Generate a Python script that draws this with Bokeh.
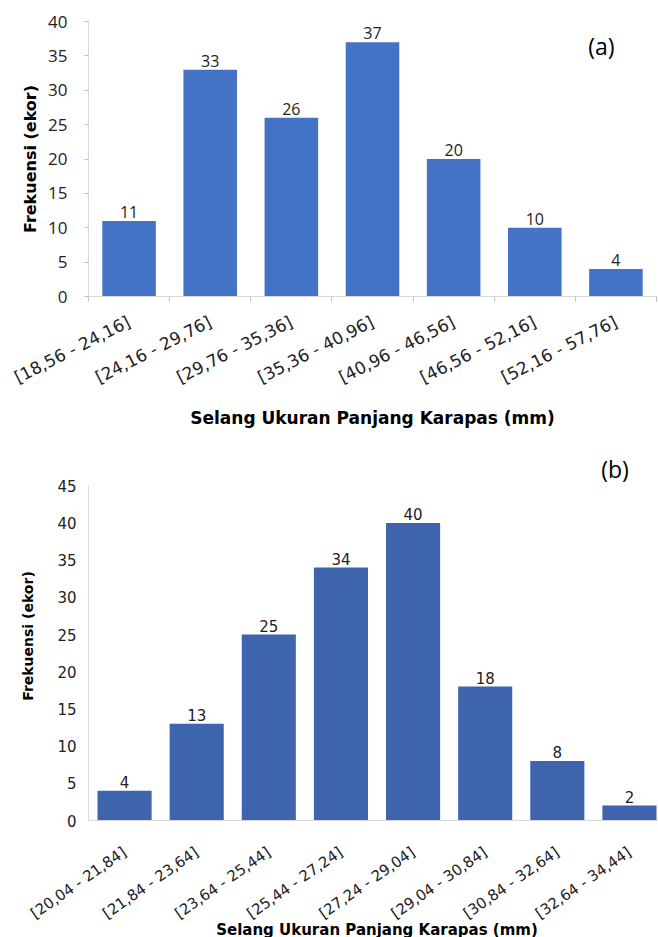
import math
from bokeh.plotting import figure
from bokeh.layouts import column
from bokeh.models import ColumnDataSource, FixedTicker, Label
from bokeh.core.properties import value
from bokeh.embed import file_html
from bokeh.resources import INLINE

# ---- data (a) ----
cats_a = ["[18,56 - 24,16]", "[24,16 - 29,76]", "[29,76 - 35,36]", "[35,36 - 40,96]",
          "[40,96 - 46,56]", "[46,56 - 52,16]", "[52,16 - 57,76]"]
vals_a = [11, 33, 26, 37, 20, 10, 4]
yticks_a = [0, 5, 10, 15, 20, 25, 30, 35, 40]

# ---- data (b) ----
cats_b = ["[20,04 - 21,84]", "[21,84 - 23,64]", "[23,64 - 25,44]", "[25,44 - 27,24]",
          "[27,24 - 29,04]", "[29,04 - 30,84]", "[30,84 - 32,64]", "[32,64 - 34,44]"]
vals_b = [4, 13, 25, 34, 40, 18, 8, 2]
yticks_b = [0, 5, 10, 15, 20, 25, 30, 35, 40, 45]

xlabel = "Selang Ukuran Panjang Karapas (mm)"
ylabel = "Frekuensi (ekor)"


def make_panel(cats, vals, yticks, color, bar_w, fw, fh, bl, bt, bb,
               tick_font, tick_size, xt_size, xt_angle, lab_font, lab_size,
               xtitle_size, ytitle_size, panel_tag, tag_xy, y_end, y_ticks_out,
               x_minor_out, xstand, ystand, ax_stand, ay_stand):
    n = len(cats)
    pos = list(range(1, n + 1))
    src = ColumnDataSource(dict(x=pos, top=vals, txt=[str(v) for v in vals]))
    p = figure(frame_width=fw, frame_height=fh, min_border_left=bl, min_border_right=2,
               min_border_top=bt, min_border_bottom=bb,
               x_range=(0.5, n + 0.5), y_range=(0, y_end),
               output_backend="svg", toolbar_location=None, tools="")
    p.vbar(x="x", top="top", width=bar_w, source=src, fill_color=color, line_color=None)
    p.text(x="x", y="top", text="txt", source=src, text_align="center",
           text_baseline="bottom", y_offset=-3, text_font=value(lab_font),
           text_font_size=f"{lab_size}px", text_color="#222222")
    p.xgrid.visible = False
    p.ygrid.visible = False
    p.outline_line_color = None

    xa = p.xaxis[0]
    xa.ticker = FixedTicker(ticks=pos, minor_ticks=[i + 0.5 for i in range(0, n + 1)])
    xa.major_label_overrides = {i: c for i, c in zip(pos, cats)}
    xa.major_tick_line_color = None
    xa.minor_tick_line_color = "#BFBFBF" if x_minor_out else None
    xa.minor_tick_out = x_minor_out
    xa.minor_tick_in = 0
    xa.axis_line_color = "#D9D9D9"
    xa.major_label_orientation = math.radians(xt_angle)
    xa.major_label_text_font = "DejaVu Sans"
    xa.major_label_text_font_size = f"{xt_size}px"
    xa.major_label_text_color = "#222222"
    xa.major_label_standoff = xstand
    xa.axis_label = xlabel
    xa.axis_label_text_font = "DejaVu Sans"
    xa.axis_label_text_font_style = "bold"
    xa.axis_label_text_font_size = f"{xtitle_size}px"
    xa.axis_label_text_color = "#000000"
    xa.axis_label_standoff = ax_stand

    ya = p.yaxis[0]
    ya.ticker = FixedTicker(ticks=yticks)
    ya.bounds = (yticks[0], yticks[-1])
    ya.axis_line_color = "#D9D9D9"
    ya.major_tick_line_color = "#BFBFBF" if y_ticks_out else None
    ya.major_tick_out = y_ticks_out
    ya.major_tick_in = 0
    ya.minor_tick_line_color = None
    ya.major_label_text_font = tick_font
    ya.major_label_text_font_size = f"{tick_size}px"
    ya.major_label_text_color = "#222222"
    ya.major_label_standoff = ystand
    ya.axis_label = ylabel
    ya.axis_label_text_font = "DejaVu Sans"
    ya.axis_label_text_font_style = "bold"
    ya.axis_label_text_font_size = f"{ytitle_size}px"
    ya.axis_label_text_color = "#000000"
    ya.axis_label_standoff = ay_stand

    p.add_layout(Label(x=tag_xy[0], y=tag_xy[1], text=panel_tag, text_align="center",
                       text_baseline="middle", text_font="Open Sans",
                       text_font_size="23px", text_color="#000000"))
    return p


# (a): frame x 88..656, y 21..296
pa = make_panel(cats_a, vals_a, yticks_a, "#4472C4", 0.66, 568, 275, 88, 21, 155,
                "Open Sans", 17, 17, 27, "Open Sans", 16, 17, 16,
                "(a)", (6.82, 36.5), 40, 4, 5, 18, 17, 9, 5)
# (b): frame x 79..656, y ~451..820 (axis drawn to 45)
pb = make_panel(cats_b, vals_b, yticks_b, "#3D64AD", 0.75, 577, 369, 79, 0, 116,
                "DejaVu Sans", 15, 15, 35, "DejaVu Sans", 15, 15, 14,
                "(b)", (7.8, 47.3), 49.6, 0, 0, 24, 12, -12, 18)

layout = column(pa, pb, spacing=0)
open("out.html", "w").write(file_html(layout, INLINE))
